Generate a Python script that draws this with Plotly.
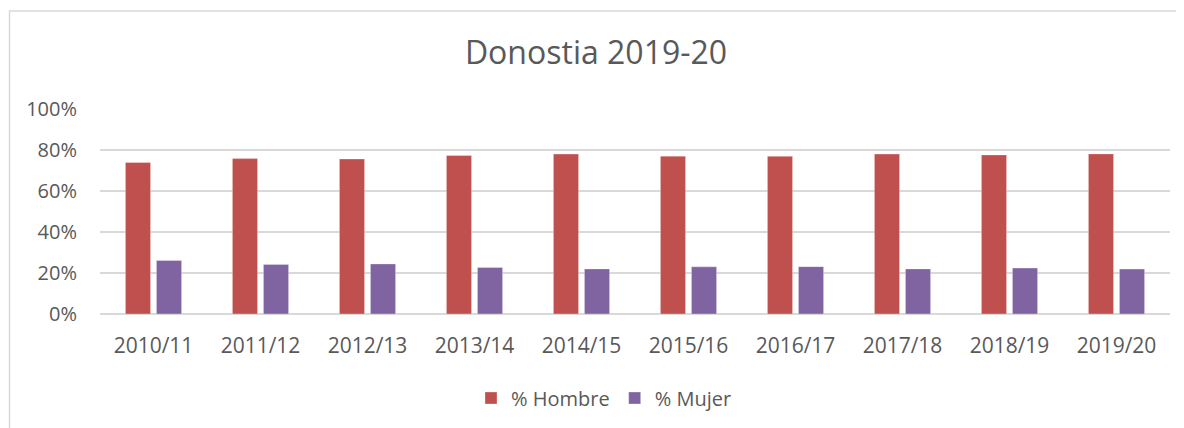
import plotly.graph_objects as go

# ── Datos ─────────────────────────────────────────────────────────────────────
cursos = ["2010/11", "2011/12", "2012/13", "2013/14", "2014/15",
          "2015/16", "2016/17", "2017/18", "2018/19", "2019/20"]
pct_hombre = [0.739, 0.758, 0.756, 0.773, 0.780, 0.770, 0.769, 0.780, 0.776, 0.781]
pct_mujer  = [0.261, 0.242, 0.244, 0.227, 0.220, 0.230, 0.231, 0.220, 0.224, 0.219]
y_ticks = [0, 0.2, 0.4, 0.6, 0.8, 1.0]

# ── Estilo ────────────────────────────────────────────────────────────────────
ROJO   = "#C0504D"
MORADO = "#8064A2"
GRIS_TXT = "#595959"
GRIS_GRID = "#D9D9D9"
FONT = "Open Sans"

# la página tiene 8px de margen en el body -> figura de 1176x420
W, H = 1176, 420
OFF = 8

fig = go.Figure()
fig.add_trace(go.Bar(
    x=cursos, y=pct_hombre, name="% Hombre",
    marker=dict(color=ROJO, line=dict(color="rgba(255,255,255,0.5)", width=0.6)),
))
fig.add_trace(go.Bar(
    x=cursos, y=pct_mujer, name="% Mujer",
    marker=dict(color=MORADO, line=dict(color="rgba(255,255,255,0.5)", width=0.6)),
))

# borde exterior del gráfico (estilo Excel)
fig.add_shape(type="rect", xref="paper", yref="paper",
              x0=(9.5 - 100) / 1070, x1=1.03, y0=-0.6, y1=(315 - 10.5) / 206,
              line=dict(color="#D9D9D9", width=1.5), layer="below")

fig.update_layout(
    width=W, height=H,
    margin=dict(l=100 - OFF, r=14, t=109 - OFF, b=428 - 315),
    paper_bgcolor="#ffffff",
    plot_bgcolor="#ffffff",
    font=dict(family=FONT, size=20, color=GRIS_TXT),
    title=dict(text="Donostia 2019-20", x=0.5, xanchor="center",
               y=1 - (53 - OFF) / H, yanchor="middle",
               font=dict(family=FONT, size=32, color=GRIS_TXT)),
    barmode="group",
    bargap=0.42,
    bargroupgap=0.19,
    showlegend=True,
    legend=dict(orientation="h", x=0.5 - 31 / 1070, xanchor="center",
                y=(315 - 398) / 206, yanchor="middle",
                font=dict(family=FONT, size=20, color=GRIS_TXT),
                itemwidth=30, traceorder="normal"),
    xaxis=dict(showgrid=False, showline=False, ticks="",
               ticklabelstandoff=17,
               tickfont=dict(size=21, color=GRIS_TXT)),
    yaxis=dict(range=[0, 1.0], tickvals=y_ticks, tickformat=".0%",
               showgrid=True, gridcolor=GRIS_GRID, gridwidth=1.5,
               zeroline=True, zerolinecolor=GRIS_GRID, zerolinewidth=1.5,
               showline=False, ticks="", ticklabelstandoff=22,
               tickfont=dict(size=20, color=GRIS_TXT)),
)

fig.write_html("out.html")
